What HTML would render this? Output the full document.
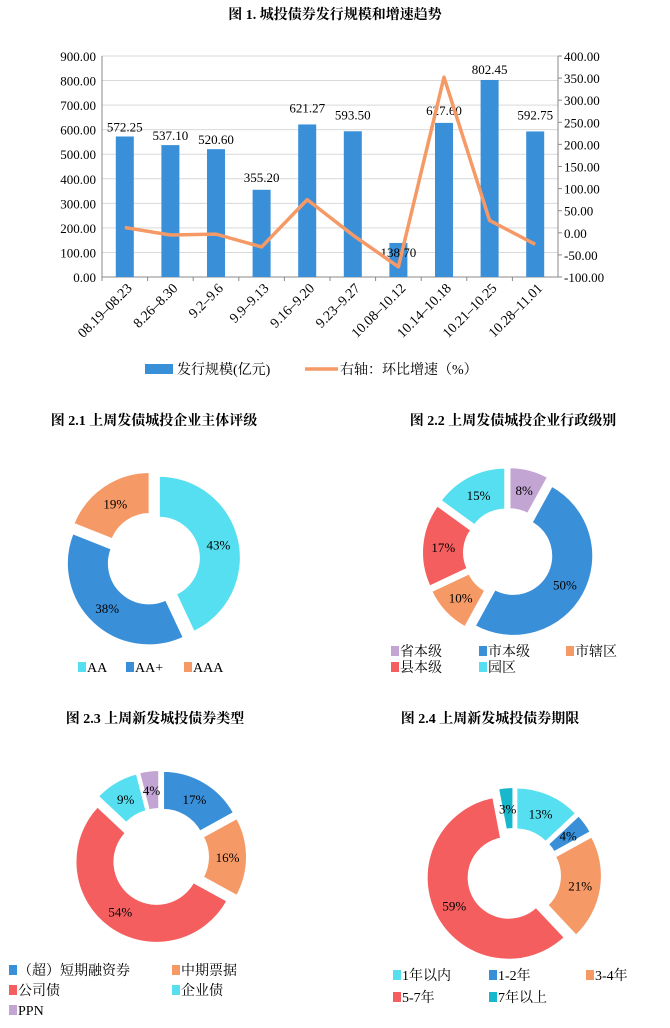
<!DOCTYPE html>
<html><head><meta charset="utf-8"><style>
body{margin:0;background:#fff;width:670px;height:1023px;overflow:hidden;font-family:"Liberation Serif","Noto Serif CJK SC",serif}
svg text{font-family:"Liberation Serif","Noto Serif CJK SC",serif}
</style></head><body>
<svg id="svg" width="670" height="1023" xmlns="http://www.w3.org/2000/svg">
<text x="335" y="19" text-anchor="middle" font-size="14" font-weight="bold">图 1.  城投债券发行规模和增速趋势</text>
<g id="bar"></g>
<text x="154" y="425" text-anchor="middle" font-size="14" font-weight="bold">图 2.1  上周发债城投企业主体评级</text>
<text x="513" y="425" text-anchor="middle" font-size="14" font-weight="bold">图 2.2  上周发债城投企业行政级别</text>
<text x="155" y="723" text-anchor="middle" font-size="14" font-weight="bold">图 2.3  上周新发城投债券类型</text>
<text x="490" y="723" text-anchor="middle" font-size="14" font-weight="bold">图 2.4  上周新发城投债券期限</text>
<g id="d1"></g>
<g id="d2"></g>
<g id="d3"></g>
<g id="d4"></g>
</svg>
<script>
const categories=["08.19–08.23","8.26–8.30","9.2–9.6","9.9–9.13","9.16–9.20","9.23–9.27","10.08–10.12","10.14–10.18","10.21–10.25","10.28–11.01"];
const issuance=[572.25,537.10,520.60,355.20,621.27,593.50,138.70,627.60,802.45,592.75];
const growth=[12,-5,-3,-32,75,-5,-77,352,28,-26];
const leftTicks=[0,100,200,300,400,500,600,700,800,900];
const rightTicks=[-100,-50,0,50,100,150,200,250,300,350,400];

const d1Labels=["AA","AA+","AAA"],d1Values=[43,38,19];
const d2Labels=["省本级","市本级","市辖区","县本级","园区"],d2Values=[8,50,10,17,15];
const d3Labels=["（超）短期融资券","中期票据","公司债","企业债","PPN"],d3Values=[17,16,54,9,4];
const d4Labels=["1年以内","1-2年","3-4年","5-7年","7年以上"],d4Values=[13,4,21,59,3];

const NS="http://www.w3.org/2000/svg";
function mk(p,t,a){const e=document.createElementNS(NS,t);for(const k in a)e.setAttribute(k,a[k]);p.appendChild(e);return e;}
const BLUE="#3A8FD9",ORANGE="#F59A66",CYAN="#55DFF0",RED="#F45E5E",PURPLE="#C3A5D3",TEAL="#17B7CC";

const g=document.getElementById('bar');
const L=102,R=558,T=56,B=277;
const yL=v=>B-(v/900)*(B-T);
const yR=v=>B-((v+100)/500)*(B-T);
const bw=(R-L)/categories.length;
const xC=i=>L+bw*(i+0.5);
leftTicks.forEach(v=>{
  const l=mk(g,'line',{x1:L,x2:R,y1:yL(v),y2:yL(v),stroke:'#d9d9d9','stroke-width':1});
  
  
  const t=mk(g,'text',{x:L-6,y:yL(v)+5,'text-anchor':'end','font-size':13});t.textContent=v.toFixed(2);
  
  
});
rightTicks.forEach(v=>{
  const t=mk(g,'text',{x:R+6,y:yR(v)+5,'font-size':13});t.textContent=v.toFixed(2);
  
  
  mk(g,'line',{x1:R,x2:R+4,y1:yR(v),y2:yR(v),stroke:'#888'});
});
mk(g,'line',{x1:L,x2:L,y1:T,y2:B,stroke:'#888'});
mk(g,'line',{x1:R,x2:R,y1:T,y2:B,stroke:'#888'});
mk(g,'line',{x1:L,x2:R,y1:B,y2:B,stroke:'#888'});
const off=[5,5,5,8,12,12,-14,8,6,12];
categories.forEach((c,i)=>{
  mk(g,'line',{x1:L+bw*i,x2:L+bw*i,y1:B,y2:B+4,stroke:'#888'});
  const r=mk(g,'rect',{x:xC(i)-9,y:yL(issuance[i]),width:18,height:B-yL(issuance[i]),fill:BLUE});
  
  
  const t=mk(g,'text',{x:xC(i),y:yL(issuance[i])-off[i],'text-anchor':'middle','font-size':13});
  t.textContent=issuance[i].toFixed(2);
  
  
  const xl=mk(g,'text',{x:xC(i)+8,y:B+12,'text-anchor':'end','font-size':14,transform:`rotate(-45 ${xC(i)+8} ${B+12})`});
  xl.textContent=c;
  
  
});
const pl=mk(g,'polyline',{points:growth.map((v,i)=>xC(i)+','+yR(v)).join(' '),fill:'none',stroke:ORANGE,'stroke-width':3.5,'stroke-linejoin':'round'});


const lg=mk(g,'rect',{x:145,y:364,width:28,height:10,fill:BLUE});


let t1=mk(g,'text',{x:177,y:374,'font-size':14});t1.textContent='发行规模(亿元)';


mk(g,'line',{x1:305,x2:338,y1:369,y2:369,stroke:ORANGE,'stroke-width':3.5});
let t2=mk(g,'text',{x:340,y:374,'font-size':14});t2.textContent='右轴：环比增速（%）';



function donut(id,cx,cy,ro,ri,vals,cols,ex){
  const g=document.getElementById(id);
  const tot=vals.reduce((a,b)=>a+b,0);let a0=0;
  vals.forEach((v,i)=>{
    const a1=a0+v/tot*2*Math.PI;const am=(a0+a1)/2;
    const dx=ex*Math.sin(am),dy=-ex*Math.cos(am);
    const P=(r,a)=>[cx+dx+r*Math.sin(a),cy+dy-r*Math.cos(a)];
    const [x1,y1]=P(ro,a0),[x2,y2]=P(ro,a1),[x3,y3]=P(ri,a1),[x4,y4]=P(ri,a0);
    const lf=(a1-a0)>Math.PI?1:0;
    const p=mk(g,'path',{d:`M${x1},${y1}A${ro},${ro} 0 ${lf} 1 ${x2},${y2}L${x3},${y3}A${ri},${ri} 0 ${lf} 0 ${x4},${y4}Z`,fill:cols[i],stroke:'#fff','stroke-width':2});
    
    
    const [lx,ly]=P((ro+ri)/2,am);
    const t=mk(g,'text',{x:lx,y:ly+5,'text-anchor':'middle','font-size':13});t.textContent=Math.round(v)+'%';
    
    
    a0=a1;
  });
}
function legend(id,items,cols,pos){
  const g=document.getElementById(id);
  items.forEach((s,i)=>{
    const [x,y]=pos[i];
    const r=mk(g,'rect',{x:x,y:y-10,width:8,height:10,fill:cols[i]});
    
    
    const t=mk(g,'text',{x:x+9,y:y,'font-size':14});t.textContent=s;
    
    
  });
}
donut('d1',153,559,82,40,d1Values,[CYAN,BLUE,ORANGE],6);
legend('d1',d1Labels,[CYAN,BLUE,ORANGE],[[78,672],[126,672],[184,672]]);
donut('d2',508,553,80,38,d2Values,[PURPLE,BLUE,ORANGE,RED,CYAN],6);
legend('d2',d2Labels,[PURPLE,BLUE,ORANGE,RED,CYAN],[[391,656],[479,656],[566,656],[391,672],[479,672]]);
donut('d3',160,857,81,42,d3Values,[BLUE,ORANGE,RED,CYAN,PURPLE],6);
legend('d3',d3Labels,[BLUE,ORANGE,RED,CYAN,PURPLE],[[9,975],[172,975],[9,995],[172,995],[9,1015]]);
donut('d4',514,875,82,40,d4Values,[CYAN,BLUE,ORANGE,RED,TEAL],6);
legend('d4',d4Labels,[CYAN,BLUE,ORANGE,RED,TEAL],[[393,980],[489,980],[586,980],[393,1002],[489,1002]]);
</script>
</body></html>
